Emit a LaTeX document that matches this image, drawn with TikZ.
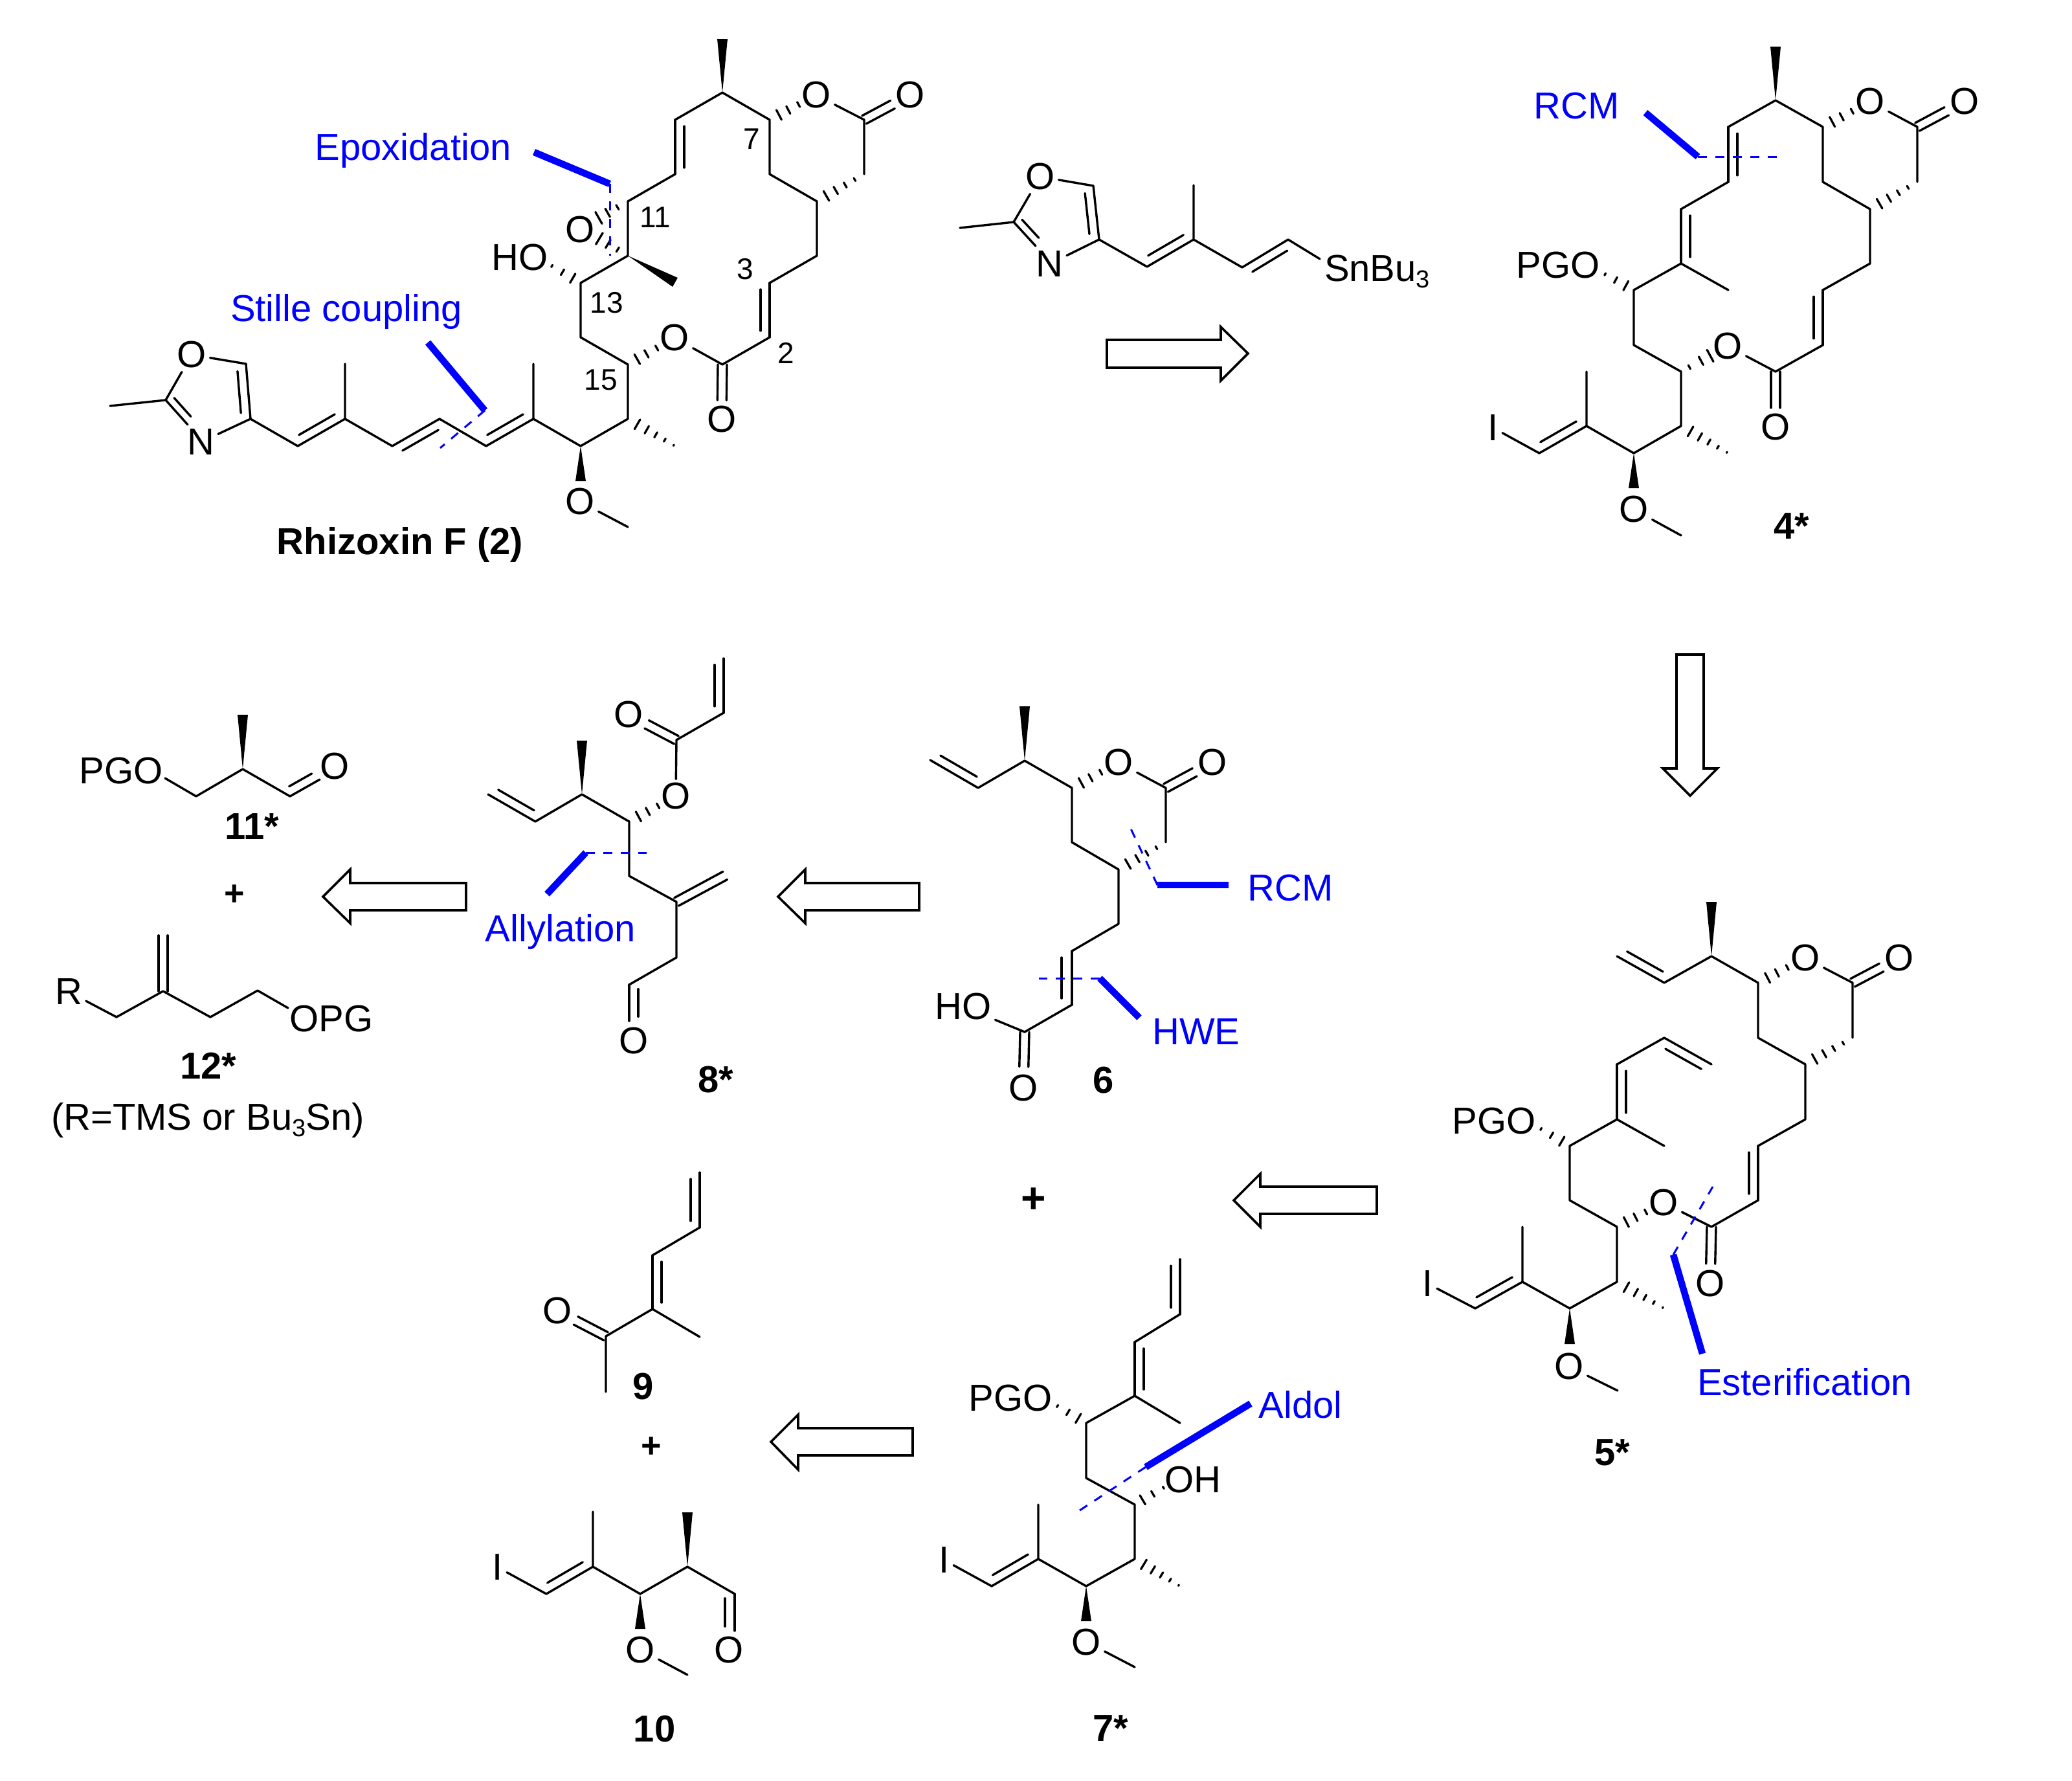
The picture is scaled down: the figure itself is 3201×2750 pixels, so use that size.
\documentclass[tikz,border=0pt]{standalone}
\usepackage{fontspec}
\setmainfont{Liberation Sans}
\usetikzlibrary{calc}
\tikzset{
  bond/.style={line width=3.4pt,line cap=round,line join=round},
  hashline/.style={line width=3.3pt,line cap=round},
  retro/.style={line width=3.6pt,line join=miter},
  cut/.style={blue,line width=3pt,dash pattern=on 14pt off 13pt},
  bar/.style={blue,line width=10.5pt},
  atom/.style={font=\fontsize{58}{60}\selectfont,inner sep=6pt,outer sep=0pt},
  tag/.style={font=\fontsize{58}{60}\selectfont,text=blue,inner sep=0pt},
  num/.style={font=\fontsize{46}{48}\selectfont,inner sep=0pt},
  cmpd/.style={font=\fontsize{58}{60}\selectfont\bfseries,inner sep=0pt}
}
\newcommand\atoms[1]{\foreach \n/\x/\y in {#1} \coordinate (\n) at (\x,\y);}
\newcommand\wedgebond[2]{\fill (#1) -- ($(#2)!8pt!90:(#1)$) -- ($(#2)!8pt!-90:(#1)$) -- cycle;}
\newcommand\hashbond[3]{\foreach \hf in {#3}{\pgfmathsetmacro\hw{10.5-10*\hf}
  \draw[hashline] ($(#1)!\hf!(#2)!\hw pt!90:(#2)$) -- ($(#1)!\hf!(#2)!\hw pt!-90:(#2)$);}}
\newcommand\longhash[2]{\hashbond{#1}{#2}{.2,.4,.59,.78,.97}}
\newcommand\dblin[3]{\draw[bond] (#1) -- (#2);
  \draw[bond] ($(#1)!.12!(#2)!#3pt!90:(#2)$) -- ($(#1)!.88!(#2)!#3pt!90:(#2)$);}
\newcommand\dblcen[3]{\draw[bond] ($(#1)!7pt!90:(#2)$) -- ($(#1)!#3!(#2)!7pt!90:(#2)$);
  \draw[bond] ($(#1)!7pt!-90:(#2)$) -- ($(#1)!#3!(#2)!7pt!-90:(#2)$);}
\newcommand\subn[1]{\raisebox{-10pt}{\fontsize{38}{38}\selectfont #1}}
\begin{document}
\begin{tikzpicture}[x=1pt,y=-1pt]
\useasboundingbox (0,0) rectangle (3201,2750);
\atoms{r1/1116/143,rm1/1116/60,r2/1043/185,r3/1043/269,r4/970/311,r5/970/395,rm2/1043/436,r6/897/437,r7/897/521,
  r8/970/563,r9/1116/563,r10/1189/521,r11/1189/437,r12/1262/395,r13/1262/311,r14/1189/269,r15/1189/185,r16/1335/185,
  r17/1335/269,r18/970/647,rm3/1043/689,r19/897/689,rw/897/743,rm7/970/814,r20/824/647,rm4/824/562,r21/751/689,
  r22/679/647,r23/606/689,r24/533/647,rm5/533/562,r25/460/689,r26/387/647,r27/380/562,r28/256/618,rn2/290/656,rm6/170/627,
  rs1/661/529,rs2/749/634,rs3/680/692,rp1/825/235,rp2/942/284,rp3/942/395,rq/846/407,rq1/924/337,rq2/925/368}
\node[atom] (rO1) at (896,355) {O};
\node[atom] (rHO) at (803,398) {HO};
\node[atom] (rO2) at (1042,522) {O};
\node[atom] (rO3) at (1115,648) {O};
\node[atom] (rO4) at (1261,147) {O};
\node[atom] (rO5) at (1406,147) {O};
\node[atom] (rO6) at (896,775) {O};
\node[atom] (rO7) at (296,548) {O};
\node[atom] (rN) at (310,683) {N};
\draw[bond] (r1) -- (r2) (r3) -- (r4) -- (r5) -- (r6) -- (r7) -- (r8) -- (r18) -- (r19) -- (r20) (r21) -- (r22) (r23) -- (r24) (r25) -- (r26);
\draw[bond] (r20) -- (rm4) (r24) -- (rm5) (r9) -- (r10) (r11) -- (r12) -- (r13) -- (r14) -- (r15) -- (r1);
\draw[bond] (rO2) -- (r9) (rO4) -- (r16) -- (r17) (rO6) -- (rm7) (r28) -- (rm6) (r28) -- (rO7) -- (r27) (rN) -- (r26);
\dblin{r2}{r3}{14} \dblin{r10}{r11}{14} \dblin{r21}{r20}{14} \dblin{r23}{r22}{-14} \dblin{r25}{r24}{14} \dblin{r26}{r27}{14} \dblin{r28}{rn2}{12}
\dblcen{r16}{rO5}{.62} \dblcen{r9}{rO3}{.65}
\wedgebond{r1}{rm1} \wedgebond{r5}{rm2} \wedgebond{r19}{rw}
\hashbond{r15}{rO4}{.2,.4,.62} \hashbond{r8}{rO2}{.2,.4,.62} \hashbond{rq1}{r4}{.02,.32,.65} \hashbond{rq2}{r5}{.02,.32,.65}
\hashbond{r6}{rq}{.24,.55,.87} \hashbond{r13}{r17}{.2,.4,.6,.8} \longhash{r18}{rm3}
\draw[bar] (rs1) -- (rs2); \draw[cut] (rs2) -- (rs3);
\draw[bar] (rp1) -- (rp2); \draw[cut] (rp2) -- (rp3);
\node[tag] (rt1) at (638,232) {Epoxidation};
\node[tag] (rt2) at (535,481) {Stille coupling};
\node[num] (rc7) at (1161,215) {7};
\node[num] (rc11) at (1012,336) {11};
\node[num] (rc13) at (937,468) {13};
\node[num] (rc3) at (1151,416) {3};
\node[num] (rc2) at (1214,545) {2};
\node[num] (rc15) at (928,587) {15};
\node[cmpd] (rname) at (618,841) {Rhizoxin F (2)};

\atoms{s1/1483/352,s2/1566/343,s3/1689/287,s4/1698/370,sn2/1600/380,s5/1772/412,s6/1844/370,sm/1844/286,s7/1919/413,s8/1990/370,s9/2039/400}
\node[atom] (sO) at (1607,273) {O};
\node[atom] (sN) at (1621,408) {N};
\node[atom,anchor=west,inner sep=0pt] (sSn) at (2046,419) {SnBu\subn{3}};
\draw[bond] (s1) -- (s2) (s2) -- (sO) -- (s3) (sN) -- (s4) -- (s5) (s6) -- (s7) (s6) -- (sm) (s8) -- (s9);
\dblin{s4}{s3}{14} \dblin{s2}{sn2}{12} \dblin{s5}{s6}{14} \dblin{s7}{s8}{-14}
\draw[retro] (1710,525) -- (1886,525) -- (1886,505) -- (1928,546) -- (1886,588) -- (1886,568) -- (1710,568) -- cycle;

\atoms{d1/2743/155,dm1/2743/72,d2/2670/196,d3/2670/281,d4/2597/323,d5/2597/407,dm2/2670/448,d6/2524/448,d7/2524/533,
  d8/2597/574,d9/2743/574,d10/2816/533,d11/2816/448,d12/2889/407,d13/2889/323,d14/2816/281,d15/2816/196,d16/2962/196,
  d17/2962/281,d18/2597/658,dm3/2670/700,d19/2524/700,dw/2524/754,dm5/2597/827,d20/2451/658,dm4/2451/574,d21/2378/700,
  ds1/2542/174,ds2/2623/242,ds3/2746/242,dq/2473/420,dh/2643/549}
\node[atom] (dPG) at (2407,410) {PGO};
\node[atom] (dO1) at (2669,535) {O};
\node[atom] (dO2) at (2743,660) {O};
\node[atom] (dO3) at (2889,157) {O};
\node[atom] (dO4) at (3035,157) {O};
\node[atom] (dO5) at (2524,787) {O};
\node[atom] (dI) at (2307,661) {I};
\draw[bond] (d1) -- (d2) (d3) -- (d4) (d5) -- (dm2) (d5) -- (d6) -- (d7) -- (d8) -- (d18) -- (d19) -- (d20) -- (dm4) (d21) -- (dI);
\draw[bond] (dO1) -- (d9) -- (d10) (d11) -- (d12) -- (d13) -- (d14) -- (d15) -- (d1) (dO3) -- (d16) -- (d17) (dO5) -- (dm5);
\dblin{d2}{d3}{14} \dblin{d4}{d5}{14} \dblin{d10}{d11}{14} \dblin{d21}{d20}{14}
\dblcen{d16}{dO4}{.62} \dblcen{d9}{dO2}{.65}
\wedgebond{d1}{dm1} \wedgebond{d19}{dw}
\hashbond{d15}{dO3}{.2,.4,.62} \hashbond{dh}{d8}{.02,.33,.72} \hashbond{d6}{dq}{.24,.55,.87} \hashbond{d13}{d17}{.2,.4,.6,.8} \longhash{d18}{dm3}
\draw[bar] (ds1) -- (ds2); \draw[cut] (ds2) -- (ds3);
\node[tag] (dt) at (2436,164) {RCM};
\node[cmpd] (dname) at (2768,813) {4*};

\draw[retro] (2590,1011) -- (2632,1011) -- (2632,1187) -- (2653,1187) -- (2611,1229) -- (2569,1187) -- (2590,1187) -- cycle;

\atoms{e1/2644/1477,em1/2644/1393,e2/2571/1518,e3/2498/1477,e4/2716/1518,e5/2716/1603,e6/2789/1644,e7/2789/1729,e8/2716/1770,
  e9/2716/1854,e10/2644/1895,e11/2862/1518,e12/2862/1603,e13/2498/1895,e14/2425/1854,e15/2425/1770,e16/2498/1729,e17/2498/1644,
  e18/2571/1603,e19/2644/1644,em2/2571/1770,e20/2498/1980,em3/2571/2021,e21/2425/2021,ew/2425/2076,em5/2499/2148,e22/2352/1980,
  em4/2352/1895,e23/2279/2021,es1/2585/1938,es2/2630/2091,es3/2646/1833,eq/2374/1740}
\node[atom] (eO1) at (2789,1480) {O};
\node[atom] (eO2) at (2934,1480) {O};
\node[atom] (eO3) at (2570,1858) {O};
\node[atom] (eO4) at (2642,1983) {O};
\node[atom] (ePG) at (2308,1732) {PGO};
\node[atom] (eI) at (2206,1983) {I};
\node[atom] (eO5) at (2424,2111) {O};
\draw[bond] (e1) -- (e2) (e1) -- (e4) -- (e5) -- (e6) -- (e7) -- (e8) (e9) -- (e10) (eO3) -- (e10) (eO1) -- (e11) -- (e12);
\draw[bond] (e13) -- (e14) -- (e15) -- (e16) -- (em2) (e17) -- (e18) (e13) -- (e20) -- (e21) -- (e22) -- (em4) (e23) -- (eI) (eO5) -- (em5);
\dblin{e2}{e3}{-14} \dblin{e8}{e9}{-14} \dblin{e16}{e17}{-14} \dblin{e18}{e19}{-14} \dblin{e23}{e22}{14}
\dblcen{e11}{eO2}{.62} \dblcen{e10}{eO4}{.65}
\wedgebond{e1}{em1} \wedgebond{e21}{ew}
\hashbond{e4}{eO1}{.2,.4,.62} \hashbond{e13}{eO3}{.2,.4,.62} \hashbond{e15}{eq}{.24,.55,.87} \hashbond{e6}{e12}{.2,.4,.6,.8} \longhash{e20}{em3}
\draw[bar] (es1) -- (es2); \draw[cut] (es1) -- (es3);
\node[tag] (et) at (2788,2135) {Esterification};
\node[cmpd] (ename) at (2491,2244) {5*};

\draw[retro] (2127,1833) -- (1947,1833) -- (1947,1813) -- (1906,1854) -- (1947,1895) -- (1947,1875) -- (2127,1875) -- cycle;
\node[cmpd,font=\fontsize{66}{68}\selectfont\bfseries] (gplus) at (1597,1854) {+};

\atoms{f1/1583/1175,fm1/1583/1091,f2/1511/1217,f3/1437/1174,f4/1656/1217,f5/1656/1301,f6/1728/1343,f7/1728/1427,f8/1656/1469,
  f9/1656/1552,f10/1583/1594,f11/1801/1217,f12/1801/1301,fs1/1898/1367,fs2/1788/1367,fs3/1745/1276,fs4/1760/1572,fs5/1699/1511,fs6/1605/1511}
\node[atom] (fO1) at (1728,1178) {O};
\node[atom] (fO2) at (1873,1178) {O};
\node[atom] (fHO) at (1488,1555) {HO};
\node[atom] (fO3) at (1581,1681) {O};
\draw[bond] (f1) -- (f2) (f1) -- (f4) -- (f5) -- (f6) -- (f7) -- (f8) (f9) -- (f10) -- (fHO) (fO1) -- (f11) -- (f12);
\dblin{f2}{f3}{-14} \dblin{f8}{f9}{-16}
\dblcen{f11}{fO2}{.62} \dblcen{f10}{fO3}{.62}
\wedgebond{f1}{fm1}
\hashbond{f4}{fO1}{.2,.4,.62} \hashbond{f6}{f12}{.2,.4,.6,.8}
\draw[bar] (fs1) -- (fs2); \draw[cut] (fs2) -- (fs3);
\draw[bar] (fs4) -- (fs5); \draw[cut] (fs5) -- (fs6);
\node[tag] (ft1) at (1994,1372) {RCM};
\node[tag] (ft2) at (1848,1594) {HWE};
\node[cmpd] (fname) at (1705,1669) {6};

\draw[retro] (1420,1364) -- (1244,1364) -- (1244,1343) -- (1202,1385) -- (1244,1426) -- (1244,1406) -- (1420,1406) -- cycle;

\atoms{h1/754/1227,h2/827/1269,h3/899/1227,hm1/899/1144,h4/972/1269,h5/972/1353,h6/1045/1393,h7/1121/1352,h8/1045/1479,h9/972/1521,
  h10/972/1577,h11/1045/1143,h12/1118/1101,h13/1118/1017,hs1/845/1381,hs2/905/1317,hs3/999/1317}
\node[atom] (hO1) at (1044,1230) {O};
\node[atom] (hO2) at (971,1104) {O};
\node[atom] (hO3) at (979,1608) {O};
\draw[bond] (h2) -- (h3) -- (h4) -- (h5) -- (h6) -- (h8) -- (h9) (hO1) -- (h11) -- (h12);
\dblin{h2}{h1}{-14} \dblin{h12}{h13}{14} \dblin{h9}{h10}{14}
\dblcen{h6}{h7}{.99} \dblcen{h11}{hO2}{.62}
\wedgebond{h3}{hm1}
\hashbond{h4}{hO1}{.2,.4,.62}
\draw[bar] (hs1) -- (hs2); \draw[cut] (hs2) -- (hs3);
\node[tag] (ht) at (866,1439) {Allylation};
\node[cmpd] (hname) at (1106,1668) {8*};

\draw[retro] (720,1364) -- (541,1364) -- (541,1343) -- (499,1385) -- (541,1426) -- (541,1406) -- (720,1406) -- cycle;

\atoms{k1/303/1230,k2/375/1188,km/375/1104,k3/448/1230,k4/494/1204,k5/255/1202}
\node[atom] (kPG) at (187,1191) {PGO};
\node[atom] (kO) at (517,1184) {O};
\draw[bond] (k5) -- (k1) -- (k2) -- (k3);
\dblin{k3}{k4}{14}
\wedgebond{k2}{km}
\node[cmpd] (kname) at (389,1277) {11*};
\node[cmpd,font=\fontsize{54}{56}\selectfont\bfseries] (kplus) at (362,1383) {+};

\atoms{l1/180/1571,l2/252/1531,l3/252/1444,l4/325/1571,l5/398/1530,l6/445/1557}
\node[atom] (lR) at (106,1532) {R};
\node[atom] (lPG) at (512,1574) {OPG};
\draw[bond] (lR) -- (l1) -- (l2) -- (l4) -- (l5) -- (l6);
\dblcen{l2}{l3}{.99}
\node[cmpd] (lname) at (322,1646) {12*};
\node[atom,inner sep=0pt] (lnote) at (321,1730) {(R=TMS or Bu\subn{3}Sn)};

\atoms{g1/1823/1945,g2/1823/2030,g3/1753/2073,g4/1753/2156,gm1/1823/2198,g5/1678/2198,g6/1678/2283,g7/1753/2324,g8/1753/2408,
  gm2/1823/2450,g9/1678/2450,gw/1678/2504,gm3/1753/2575,g10/1604/2408,gm4/1604/2324,g11/1532/2450,gs1/1932/2168,gs2/1770/2266,gs3/1668/2333,
  gq/1627/2168,gq2/1804/2294}
\node[atom] (gPG) at (1561,2160) {PGO};
\node[atom] (gOH) at (1843,2285) {OH};
\node[atom] (gO) at (1678,2536) {O};
\node[atom] (gI) at (1459,2410) {I};
\draw[bond] (g2) -- (g3) (g4) -- (gm1) (g4) -- (g5) -- (g6) -- (g7) -- (g8) -- (g9) -- (g10) -- (gm4) (g11) -- (gI) (gO) -- (gm3);
\dblin{g1}{g2}{-14} \dblin{g3}{g4}{14} \dblin{g11}{g10}{14}
\wedgebond{g9}{gw}
\hashbond{g5}{gq}{.24,.55,.87} \hashbond{g7}{gq2}{.24,.55,.87} \longhash{g8}{gm2}
\draw[bar] (gs1) -- (gs2); \draw[cut] (gs2) -- (gs3);
\node[tag] (gt) at (2009,2170) {Aldol};
\node[cmpd] (gname) at (1716,2670) {7*};

\atoms{n1/1081/1811,n2/1081/1896,n3/1008/1939,n4/1008/2022,nm1/1081/2065,n5/936/2064,nm2/936/2150}
\node[atom] (nO) at (861,2025) {O};
\draw[bond] (n2) -- (n3) (n4) -- (nm1) (n4) -- (n5) -- (nm2);
\dblin{n1}{n2}{-14} \dblin{n3}{n4}{14}
\dblcen{n5}{nO}{.62}
\node[cmpd] (nname) at (994,2142) {9};
\node[cmpd,font=\fontsize{54}{56}\selectfont\bfseries] (nplus) at (1006,2236) {+};

\draw[retro] (1410,2206) -- (1233,2206) -- (1233,2185) -- (1191,2227) -- (1233,2270) -- (1233,2248) -- (1410,2248) -- cycle;

\atoms{tm1/916/2335,t1/916/2420,t2/844/2462,t3/989/2462,tw/989/2516,tm2/1062/2587,t4/1062/2420,tm3/1062/2336,t5/1135/2462,t6/1135/2519}
\node[atom] (tI) at (769,2421) {I};
\node[atom] (tO1) at (989,2548) {O};
\node[atom] (tO2) at (1126,2548) {O};
\draw[bond] (tI) -- (t2) (t1) -- (tm1) (t1) -- (t3) -- (t4) -- (t5) (tO1) -- (tm2);
\dblin{t2}{t1}{14} \dblin{t5}{t6}{-15}
\wedgebond{t3}{tw} \wedgebond{t4}{tm3}
\node[cmpd] (tname) at (1011,2670) {10};
\end{tikzpicture}
\end{document}
